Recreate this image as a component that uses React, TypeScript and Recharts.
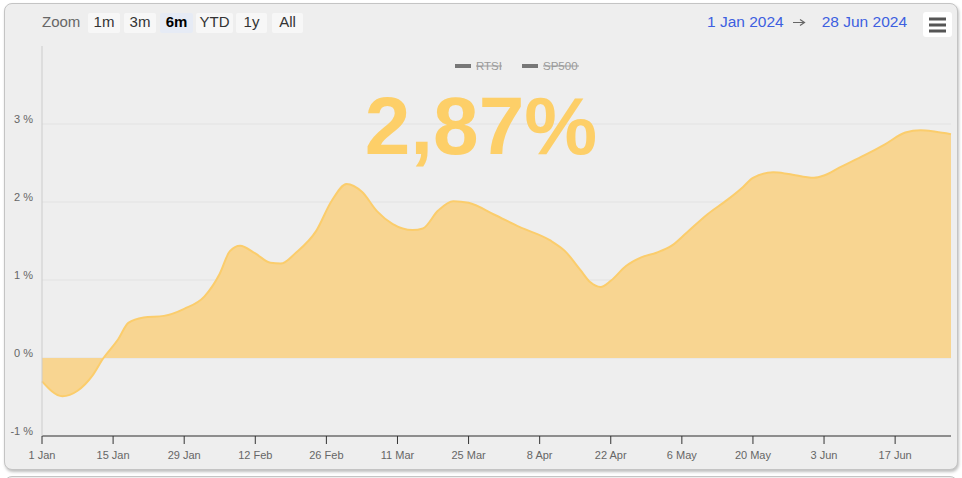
import { AreaChart, Area, XAxis, YAxis, CartesianGrid } from 'recharts';

// days since 1 Jan 2024 and cumulative return (%)
const pointDays = [0, 4, 7, 10, 12, 15, 17, 20, 24, 28, 32, 35, 37, 39, 42, 45, 47, 50, 54, 57, 60, 63, 66, 69, 73, 75, 78, 81, 84, 89, 94, 100, 103, 106, 108, 110, 112, 115, 118, 121, 124, 127, 131, 135, 138, 140, 144, 147, 152, 154, 157, 162, 166, 170, 173, 176, 179];
const pointValues = [-0.3, -0.49, -0.42, -0.22, -0.01, 0.24, 0.45, 0.52, 0.54, 0.63, 0.79, 1.08, 1.37, 1.44, 1.34, 1.22, 1.21, 1.35, 1.63, 2.01, 2.23, 2.13, 1.88, 1.72, 1.64, 1.66, 1.89, 2.01, 1.99, 1.84, 1.68, 1.51, 1.37, 1.13, 0.97, 0.91, 0.99, 1.18, 1.29, 1.35, 1.44, 1.61, 1.84, 2.03, 2.19, 2.31, 2.38, 2.36, 2.31, 2.34, 2.44, 2.6, 2.74, 2.89, 2.92, 2.9, 2.87];

const xTickDays = [0, 14, 28, 42, 56, 70, 84, 98, 112, 126, 140, 154, 168];
const xTickLabels = ['1 Jan', '15 Jan', '29 Jan', '12 Feb', '26 Feb', '11 Mar', '25 Mar', '8 Apr', '22 Apr', '6 May', '20 May', '3 Jun', '17 Jun'];
const yTicks = [-1, 0, 1, 2, 3];

const zoomButtons = ['1m', '3m', '6m', 'YTD', '1y', 'All'];
const legendItems = ['RTSI', 'SP500'];

const data = pointDays.map((d, i) => ({ day: d, value: pointValues[i] }));

const FONT = '"Liberation Sans", Arial, Helvetica, sans-serif';

const XTick = (props: any) => {
  const { x, y, payload } = props;
  const idx = xTickDays.indexOf(payload.value);
  return (
    <text x={x} y={y + 13} textAnchor="middle" fill="#666" fontSize={11} fontFamily={FONT}>
      {xTickLabels[idx]}
    </text>
  );
};

const YTick = (props: any) => {
  const { y, payload } = props;
  return (
    <text x={33} y={y - 1} textAnchor="end" fill="#666" fontSize={11} fontFamily={FONT}>
      {payload.value} %
    </text>
  );
};

// left edges / widths of the range selector buttons
const btnX = [88, 124, 160, 196, 236, 272];
const btnW = [32, 32, 33, 37, 31, 31];

export default function App() {
  return (
    <div style={{ position: 'relative', width: 962, height: 478, overflow: 'hidden', fontFamily: FONT }}>
      <style>{'body{margin:0;background:#fff}'}</style>
      <div
        style={{
          position: 'absolute',
          left: 4,
          top: 3,
          width: 952,
          height: 465,
          background: '#eeeeee',
          border: '1px solid #c4c4c4',
          borderRadius: 8,
          boxShadow: '1px 2px 3px rgba(0,0,0,0.25)',
        }}
      />
      <div
        style={{
          position: 'absolute',
          left: 4,
          top: 476,
          width: 952,
          height: 20,
          background: '#eeeeee',
          border: '1px solid #c4c4c4',
          borderRadius: 8,
        }}
      />
      <div style={{ position: 'absolute', left: 0, top: 0 }}>
        <AreaChart width={962} height={478} data={data} margin={{ top: 46, right: 11, bottom: 12, left: 0 }}>
          <CartesianGrid vertical={false} stroke="#e2e2e2" horizontalValues={yTicks} />
          <XAxis
            dataKey="day"
            type="number"
            domain={[0, 179]}
            ticks={xTickDays}
            interval={0}
            height={30}
            axisLine={{ stroke: '#333' }}
            tickLine={{ stroke: '#333' }}
            tickSize={8}
            tick={<XTick />}
          />
          <YAxis
            type="number"
            domain={[-1, 4]}
            ticks={yTicks}
            interval={0}
            width={42}
            axisLine={{ stroke: '#cccccc' }}
            tickLine={false}
            tick={<YTick />}
          />
          <Area
            type="monotone"
            dataKey="value"
            baseValue={0}
            stroke="#fbcd6c"
            strokeWidth={2}
            fill="#f8d591"
            fillOpacity={1}
            dot={false}
            activeDot={false}
            isAnimationActive={false}
          />
        </AreaChart>
      </div>
      <svg width={962} height={478} style={{ position: 'absolute', left: 0, top: 0, pointerEvents: 'none' }}>
        {/* range selector */}
        <text x={42} y={27} fill="#666" fontSize={15} fontFamily={FONT}>Zoom</text>
        {zoomButtons.map((b, i) => (
          <g key={b}>
            <rect x={btnX[i]} y={13} width={btnW[i]} height={20} rx={2} fill={i === 2 ? '#e6ebf5' : '#f7f7f7'} />
            <text
              x={btnX[i] + btnW[i] / 2}
              y={27}
              textAnchor="middle"
              fill={i === 2 ? '#000' : '#333'}
              fontWeight={i === 2 ? 'bold' : 'normal'}
              fontSize={15}
              fontFamily={FONT}
            >
              {b}
            </text>
          </g>
        ))}
        {/* date range */}
        <text x={707} y={27} fill="#3d5fe0" fontSize={15.5} fontFamily={FONT}>1 Jan 2024</text>
        <path d="M793 22.5H804M800 19.5L804.5 22.5L800 25.5" stroke="#666" strokeWidth={1.2} fill="none" />
        <text x={907} y={27} textAnchor="end" fill="#3d5fe0" fontSize={15.5} fontFamily={FONT}>28 Jun 2024</text>
        {/* export menu */}
        <rect x={923} y={12} width={29} height={25} rx={3} fill="#ffffff" />
        <path d="M929 19H946M929 25H946M929 31H946" stroke="#555" strokeWidth={3} />
        {/* legend (hidden series) */}
        {legendItems.map((name, i) => {
          const sx = i === 0 ? 455 : 522;
          const tw = i === 0 ? 26 : 36;
          return (
            <g key={name}>
              <rect x={sx} y={64} width={16} height={4} fill="#777" />
              <text x={sx + 21} y={70} fill="#9a9a9a" fontSize={11.5} fontFamily={FONT}>{name}</text>
              <line x1={sx + 21} x2={sx + 21 + tw} y1={66} y2={66} stroke="#9a9a9a" strokeWidth={1} />
            </g>
          );
        })}
        {/* headline value */}
        <text x={481} y={154} textAnchor="middle" fill="#fdcf68" fontSize={82} fontWeight="bold" fontFamily={FONT}>
          2,87%
        </text>
      </svg>
    </div>
  );
}
